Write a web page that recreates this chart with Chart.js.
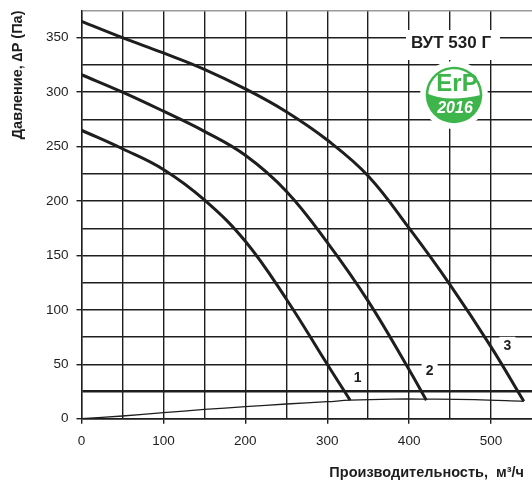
<!DOCTYPE html>
<html lang="ru">
<head>
<meta charset="utf-8">
<title>ВУТ 530 Г</title>
<script src="https://cdn.jsdelivr.net/npm/chart.js@4.4.1/dist/chart.umd.min.js"></script>
<style>
  html, body { margin: 0; padding: 0; background: #fff; }
  #wrap { width: 532px; height: 484px; position: relative; }
</style>
</head>
<body>
<div id="wrap"><canvas id="chart"></canvas></div>
<script>
/* ── values ── */
const FLOW_1 = [0, 50, 100, 150, 200, 250, 300, 328];
const PRES_1 = [265, 248, 229, 201, 163, 110, 50, 17];
const FLOW_2 = [0, 50, 100, 150, 200, 250, 300, 350, 400, 421];
const PRES_2 = [316, 300, 282.5, 264, 242, 209, 162, 108, 45, 17];
const FLOW_3 = [0, 50, 100, 150, 200, 250, 300, 350, 400, 450, 500, 540];
const PRES_3 = [365, 350, 336, 321, 303, 282, 256, 223, 175, 123, 66, 16];
const NET_FLOW = [0, 50, 100, 150, 200, 250, 300, 328, 380, 421, 480, 540];
const NET_PRES = [0, 2.5, 5.5, 8.5, 11, 13.5, 15.6, 17, 18, 18, 17.5, 16];

const CURVE_NAMES = ['1', '2', '3'];
const NAME_FLOW = [337, 425, 520];
const NAME_PRES = [37, 44, 67];

const X_TICKS = [0, 100, 200, 300, 400, 500];
const Y_TICKS = [0, 50, 100, 150, 200, 250, 300, 350];

const MODEL = 'ВУТ 530 Г';
const X_TITLE = 'Производительность,  м³/ч';
const Y_TITLE = 'Давление, ∆P (Па)';

const INK = '#1e1e1e';
const GREEN = '#3db54a';
const FONT = '"Liberation Sans", Arial, sans-serif';

function pts(xs, ys) {
  return xs.map((x, i) => ({ x, y: ys[i] }));
}

function curve(xs, ys, w) {
  return {
    data: pts(xs, ys),
    borderColor: INK,
    borderWidth: w,
    pointRadius: 0,
    fill: false,
    tension: 0.4
  };
}

/* ── logo ErP 2016 ── */
function drawLogo(ctx, cx, cy) {
  ctx.save();
  ctx.fillStyle = '#fff';
  ctx.beginPath(); ctx.arc(cx, cy, 34, 0, Math.PI * 2); ctx.fill();

  ctx.strokeStyle = GREEN;
  ctx.lineWidth = 2.5;
  ctx.beginPath(); ctx.arc(cx, cy, 27, Math.PI * 0.97, Math.PI * 2.04); ctx.stroke();

  ctx.save();
  ctx.beginPath(); ctx.arc(cx, cy, 28.2, 0, Math.PI * 2); ctx.clip();
  ctx.fillStyle = GREEN;
  ctx.beginPath();
  ctx.moveTo(cx - 30, cy - 3);
  ctx.quadraticCurveTo(cx - 8, cy + 9, cx + 31, cy - 1);
  ctx.lineTo(cx + 31, cy + 31);
  ctx.lineTo(cx - 31, cy + 31);
  ctx.closePath();
  ctx.fill();
  ctx.restore();

  ctx.textAlign = 'center';
  ctx.textBaseline = 'middle';
  ctx.fillStyle = GREEN;
  ctx.font = 'bold 24px "Liberation Sans Narrow", ' + FONT;
  ctx.fillText('ErP', cx + 3, cy - 11);
  ctx.fillStyle = '#fff';
  ctx.font = 'italic bold 16px "Liberation Sans Narrow", ' + FONT;
  ctx.fillText('2016', cx + 1, cy + 14);
  ctx.restore();
}

const decor = {
  id: 'decor',
  afterDatasetsDraw(chart) {
    const { ctx, scales: { x, y } } = chart;
    ctx.save();

    // curve numbers
    ctx.font = 'bold 14px ' + FONT;
    ctx.textAlign = 'center';
    ctx.textBaseline = 'middle';
    CURVE_NAMES.forEach((n, i) => {
      const px = x.getPixelForValue(NAME_FLOW[i]);
      const py = y.getPixelForValue(NAME_PRES[i]);
      ctx.fillStyle = '#fff';
      ctx.fillRect(px - 8, py - 9, 16, 18);
      ctx.fillStyle = INK;
      ctx.fillText(n, px, py);
    });

    // model name box
    ctx.fillStyle = '#fff';
    ctx.fillRect(406, 30, 94, 30);
    ctx.fillStyle = INK;
    ctx.font = 'bold 17px ' + FONT;
    ctx.fillText(MODEL, 451, 43);

    drawLogo(ctx, 454, 95);

    // x axis title
    ctx.font = 'bold 14.5px ' + FONT;
    ctx.textAlign = 'right';
    ctx.fillStyle = INK;
    ctx.fillText(X_TITLE, 524, 473);
    ctx.restore();
  }
};

new Chart(document.getElementById('chart'), {
  type: 'line',
  data: {
    datasets: [
      curve(FLOW_1, PRES_1, 3),
      curve(FLOW_2, PRES_2, 3),
      curve(FLOW_3, PRES_3, 3),
      curve(NET_FLOW, NET_PRES, 1.3)
    ]
  },
  options: {
    responsive: true,
    maintainAspectRatio: false,
    animation: false,
    layout: { padding: { top: 10.5, right: 0, bottom: 0, left: 0 } },
    plugins: { legend: { display: false }, tooltip: { enabled: false } },
    scales: {
      x: {
        type: 'linear',
        min: 0, max: 550,
        afterFit: s => { s.height = 65.3; s.paddingLeft = 0; s.paddingRight = 0; },
        ticks: {
          stepSize: 50, autoSkip: false, maxRotation: 0, padding: 9,
          color: INK, font: { family: FONT, size: 13.5 },
          callback: v => X_TICKS.includes(v) ? String(v) : ''
        },
        grid: {
          color: c => c.tick && c.tick.value === 550 ? 'transparent' : INK,
          lineWidth: 1.4,
          tickLength: 5,
          tickColor: c => c.tick && X_TICKS.includes(c.tick.value) ? INK : 'transparent'
        },
        border: { color: INK, width: 1.4 }
      },
      y: {
        min: 0, max: 375,
        afterFit: s => { s.width = 81.5; s.paddingTop = 0; s.paddingBottom = 0; },
        title: {
          display: true, text: Y_TITLE, align: 'end', color: INK,
          font: { family: FONT, size: 14.5, weight: 'bold' },
          padding: { top: 9, bottom: 0 }
        },
        ticks: {
          stepSize: 25, autoSkip: false, padding: 8,
          color: INK, font: { family: FONT, size: 13.5 },
          callback: v => Y_TICKS.includes(v) ? String(v) : ''
        },
        grid: {
          color: c => c.tick && c.tick.value === 375 ? '#9a9a9a' : INK,
          lineWidth: c => c.tick && c.tick.value === 25 ? 2.4 : 1.4,
          tickLength: 5,
          tickColor: c => c.tick && Y_TICKS.includes(c.tick.value) ? INK : 'transparent'
        },
        border: { color: INK, width: 1.4 }
      }
    }
  },
  plugins: [decor]
});
</script>
</body>
</html>
